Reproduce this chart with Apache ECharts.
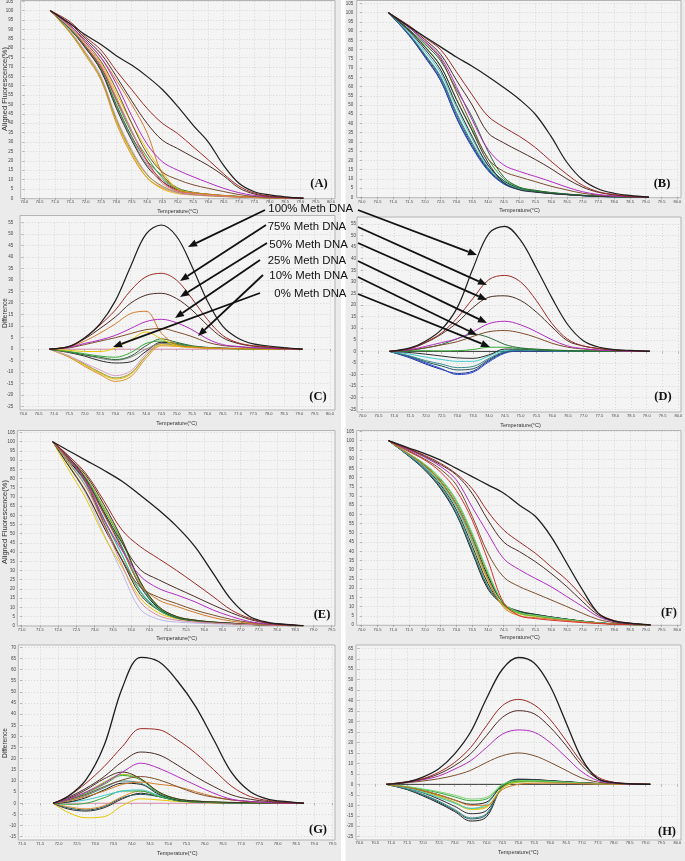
<!DOCTYPE html>
<html>
<head>
<meta charset="utf-8">
<script src="https://cdn.jsdelivr.net/npm/echarts@6/dist/echarts.min.js"></script>
<style>html,body{margin:0;padding:0;background:#fff}#c{width:685px;height:861px}</style>
</head>
<body>
<div id="c"></div>
<script>
// ---------- temperatures (°C) ----------
const TEMP_AD = [70.85, 71.5, 72, 72.5, 73, 73.5, 74, 74.5, 75, 75.5, 76, 76.5, 77, 77.5, 78, 78.5, 79.1];
const TEMP_EG = [71.85, 72.25, 72.75, 73.25, 73.75, 74.25, 74.75, 75.25, 75.75, 76.25, 76.75, 77.25, 77.75, 78.25, 78.72];
const TEMP_FH = [70.85, 71.5, 72, 72.5, 73, 73.5, 74, 74.5, 75, 75.5, 76, 76.5, 77, 77.5, 78, 78.5, 79.15];

// ---------- Panel A : aligned fluorescence (%) ----------
const A_100 = [100, 93, 87, 82, 76, 71, 65, 58, 49, 39, 30, 17.5, 8, 3.5, 1.8, 0.8, 0];
const A_75 = [100, 94, 86, 79, 68, 58, 48, 40, 34.5, 27.5, 20.5, 13, 6.5, 2.8, 1.2, 0.5, 0];
const A_50 = [100, 93, 85, 77, 65, 52, 40, 31, 26.5, 22, 17.5, 12, 5.5, 2.3, 1, 0.4, 0];
const A_25 = [100, 92, 84, 75, 61, 44, 29, 19.5, 15, 11.5, 8.3, 5.3, 3, 1.5, 0.7, 0.3, 0];
const A_10 = [100, 92, 83, 73, 58, 40, 24, 14, 10, 7.2, 5.3, 3.6, 2, 1, 0.5, 0.2, 0];
const A_ORANGE = [100, 92, 84, 75, 63, 50, 35, 13, 4.5, 3, 2.2, 1.5, 1, 0.6, 0.3, 0.1, 0];
const A_REF = [100, 91, 82, 71, 54, 36, 19, 8, 3.5, 2.3, 1.7, 1.2, 0.8, 0.5, 0.3, 0.1, 0];
const A_YEL1 = [100, 88, 77, 64, 41, 24, 11, 5, 2.5, 1.8, 1.3, 1, 0.6, 0.4, 0.2, 0.1, 0];
const A_ORG2 = [100, 88, 76, 63, 40, 23, 11, 5.5, 3, 2, 1.5, 1, 0.7, 0.4, 0.2, 0.1, 0];
const A_PINK = [100, 89, 78, 65, 43, 26, 13, 6, 2.8, 1.8, 1.3, 0.9, 0.6, 0.4, 0.2, 0.1, 0];
const A_OLIVE = [100, 88.5, 77, 64, 42, 25, 12.5, 6.5, 3.2, 2, 1.5, 1, 0.7, 0.4, 0.2, 0.1, 0];
const A_BLK2 = [100, 90, 80, 68, 48, 31, 17, 9, 4.5, 3, 2, 1.4, 0.9, 0.5, 0.3, 0.1, 0];
const A_DKGRN = [100, 90, 80.5, 69, 50, 33, 20, 12, 5.5, 3.2, 2.2, 1.5, 1, 0.6, 0.3, 0.1, 0];
const A_GRN = [100, 90.5, 81, 70, 52, 35, 22, 11, 5, 3, 2, 1.4, 0.9, 0.5, 0.3, 0.1, 0];
const A_GREY = [100, 90, 80, 68.5, 49, 32, 18, 10, 4.8, 3, 2, 1.4, 0.9, 0.5, 0.3, 0.1, 0];
const A_RED = [100, 91, 81, 70, 53, 36, 20, 9, 3.8, 2.4, 1.7, 1.2, 0.8, 0.5, 0.3, 0.1, 0];
const A_YEL2 = [100, 91, 82, 72, 56, 40, 26, 14, 5, 3, 2, 1.4, 0.9, 0.5, 0.3, 0.1, 0];

// ---------- Panel C : difference ----------
const C_100 = [0, 1.2, 5, 11, 21, 36, 50, 54, 49, 36, 21, 10, 4.8, 2.3, 1.4, 0.7, 0];
const C_75 = [0, 1.2, 4.8, 10.5, 17, 25.5, 31.5, 33, 30, 22, 13, 6, 2.8, 1.5, 1, 0.5, 0];
const C_50 = [0, 1.2, 4.5, 9, 14, 20, 23.5, 24.3, 22, 17, 10.5, 5, 2.5, 1.3, 0.8, 0.4, 0];
const C_ORANGE = [0, 1, 3.5, 7, 11, 15.5, 16.5, 7, 2, 1, 0.6, 0.4, 0.3, 0.2, 0.1, 0, 0];
const C_25 = [0, 0.8, 2.5, 4, 6, 9, 12, 13, 11.5, 8.5, 4.5, 2, 1.2, 0.7, 0.4, 0.2, 0];
const C_10 = [0, 0.6, 2, 3.5, 5, 6.8, 8.5, 9, 7.5, 5.5, 3, 1.6, 1, 0.6, 0.3, 0.1, 0];
const C_REF = [0, 0, 0, 0, 0, 0, 0, 0, 0, 0, 0, 0, 0, 0, 0, 0, 0];
const C_YEL2 = [0, -0.5, -1, -1, 0.5, 4, 7.5, 4.5, 1.5, 0.8, 0.5, 0.3, 0.2, 0.1, 0, 0, 0];
const C_YEL1 = [0, -3.5, -7, -10.5, -13, -11, -3, 2, 1.5, 0.8, 0.5, 0.3, 0.2, 0.1, 0, 0, 0];
const C_ORG2 = [0, -3.5, -7.5, -11, -14, -12, -4, 1.5, 1.2, 0.7, 0.4, 0.3, 0.2, 0.1, 0, 0, 0];
const C_OLIVE = [0, -3, -6.5, -10, -12.5, -10.5, -3, 2.5, 1.8, 1, 0.6, 0.3, 0.2, 0.1, 0, 0, 0];
const C_PINK = [0, -3, -6, -9, -11.5, -9.5, -2, 3, 2, 1, 0.6, 0.3, 0.2, 0.1, 0, 0, 0];
const C_BLK2 = [0, -1.5, -3, -5, -6, -5.5, -1, 3, 2.5, 1.2, 0.7, 0.4, 0.2, 0.1, 0, 0, 0];
const C_DKGRN = [0, -1.2, -2.5, -3.5, -4.5, -3, 1.5, 4.5, 3, 1.5, 0.8, 0.5, 0.3, 0.1, 0, 0, 0];
const C_GRN = [0, -1, -2, -3, -3.5, -1.5, 2.5, 3.5, 2.3, 1.2, 0.6, 0.3, 0.2, 0.1, 0, 0, 0];
const C_GREY = [0, -1.2, -2.5, -4, -4.8, -3.5, 0, 2.5, 2, 1, 0.5, 0.3, 0.2, 0.1, 0, 0, 0];

// ---------- Panel B : aligned fluorescence (%) ----------
const B_100 = [100, 92.5, 87, 81.5, 76, 71, 65.5, 59.5, 53, 45, 33, 19, 9.5, 4.5, 2.2, 1, 0];
const B_75 = [100, 93, 86.5, 80, 68, 55.5, 44, 38, 33, 27, 19.5, 12.5, 6.5, 3, 1.5, 0.6, 0];
const B_50 = [100, 92.5, 85.5, 77.5, 63.5, 50, 35, 29.5, 25, 20.5, 15.5, 10, 5.5, 2.7, 1.3, 0.5, 0];
const B_25 = [100, 92, 84.5, 76, 60, 42, 26, 17.5, 14, 11.3, 8.5, 5.5, 3, 1.5, 0.7, 0.3, 0];
const B_10 = [100, 92, 84, 75, 57, 38.5, 21, 14, 11, 8.5, 6, 4, 2.2, 1.2, 0.6, 0.2, 0];
const B_REF = [100, 90.5, 81.5, 71, 53, 36, 19, 8, 4, 2.8, 2, 1.4, 0.9, 0.5, 0.3, 0.1, 0];
const B_DKGRN = [100, 91, 83, 74, 58.5, 43.5, 25, 11, 5.5, 3.8, 2.6, 1.8, 1.1, 0.6, 0.3, 0.1, 0];
const B_GRN = [100, 90.7, 81.8, 71.2, 53.3, 36.8, 21, 10, 5.2, 3.6, 2.5, 1.7, 1.1, 0.6, 0.3, 0.1, 0];
const B_DARK = [100, 90, 80.3, 69, 50.2, 33, 17.5, 9, 5, 3.4, 2.4, 1.6, 1, 0.5, 0.3, 0.1, 0];
const B_CYAN = [100, 89.3, 79, 67.5, 48.7, 31.7, 17, 8.5, 4.8, 3.3, 2.3, 1.6, 1, 0.5, 0.3, 0.1, 0];
const B_GTEAL = [100, 88.5, 77.5, 65.5, 46, 29.5, 16, 8, 4.5, 3.2, 2.3, 1.6, 1, 0.5, 0.3, 0.1, 0];
const B_DTEAL = [100, 88.3, 77, 64.7, 45, 28.5, 15.5, 7.7, 4.4, 3.1, 2.2, 1.5, 0.9, 0.5, 0.3, 0.1, 0];
const B_BLUE = [100, 88, 76.5, 63.5, 43, 27, 14.5, 7.2, 4.2, 3, 2.1, 1.5, 0.9, 0.5, 0.3, 0.1, 0];
const B_NAVY = [100, 87.7, 76, 63.2, 43.5, 27.5, 15, 7.5, 4.3, 3, 2.1, 1.5, 0.9, 0.5, 0.3, 0.1, 0];

// ---------- Panel D : difference ----------
const D_100 = [0, 1.5, 4.5, 9.5, 19, 36, 51, 54, 48, 36, 23, 11.5, 4.5, 1.8, 0.8, 0.4, 0];
const D_75 = [0, 1.3, 4, 8, 14.5, 23, 31, 32.8, 30, 22, 12, 5.2, 2.3, 1.2, 0.6, 0.3, 0];
const D_50 = [0, 1.2, 3.8, 7.5, 12.5, 19, 23.4, 24, 22, 17, 10.5, 4.5, 2.3, 1.2, 0.6, 0.3, 0];
const D_25 = [0, 0.8, 2.2, 3.8, 5.5, 8.5, 12, 13, 11.5, 8.5, 5, 2.3, 1.2, 0.6, 0.3, 0.1, 0];
const D_10 = [0, 0.6, 1.6, 2.8, 4.2, 6.5, 8.5, 9, 8, 6, 3.5, 1.8, 1, 0.5, 0.3, 0.1, 0];
const D_REF = [0, 0, 0, 0, 0, 0, 0, 0, 0, 0, 0, 0, 0, 0, 0, 0, 0];
const D_DKGRN = [0, 0.5, 1.5, 3, 5.5, 7.5, 6, 3, 1.5, 1, 0.6, 0.4, 0.2, 0.1, 0, 0, 0];
const D_GRN = [0, 0.2, 0.3, 0.2, 0.3, 0.8, 1.8, 1.8, 1.2, 0.8, 0.5, 0.3, 0.2, 0.1, 0, 0, 0];
const D_DARK = [0, -0.5, -1.2, -2, -2.8, -3, -1.5, 1, 1, 0.6, 0.4, 0.2, 0.1, 0, 0, 0, 0];
const D_CYAN = [0, -1.2, -2.5, -3.5, -4.3, -4.3, -2, 0.5, 0.8, 0.5, 0.3, 0.2, 0.1, 0, 0, 0, 0];
const D_GTEAL = [0, -2, -4, -5.5, -7, -6.5, -3, 0, 0.5, 0.4, 0.3, 0.2, 0.1, 0, 0, 0, 0];
const D_DTEAL = [0, -2.2, -4.5, -6.3, -8, -7.5, -3.5, -0.3, 0.4, 0.3, 0.2, 0.1, 0, 0, 0, 0, 0];
const D_BLUE = [0, -2.5, -5, -7.5, -10, -9, -4.5, -0.8, 0.2, 0.2, 0.1, 0.1, 0, 0, 0, 0, 0];
const D_NAVY = [0, -2.8, -5.5, -7.8, -9.5, -8.5, -4, -0.5, 0.3, 0.2, 0.1, 0.1, 0, 0, 0, 0, 0];

// ---------- Panel E : aligned fluorescence (%) ----------
const E_100 = [100, 95.5, 90, 84.5, 78.5, 71, 63, 54, 43, 28.5, 14, 5, 1.8, 0.7, 0];
const E_75 = [100, 93, 83, 68, 52, 43, 36.5, 30, 23, 15.8, 8.5, 4, 1.6, 0.6, 0];
const E_50 = [100, 92.5, 80, 62, 45, 30.5, 25, 20.3, 15.8, 11.2, 7, 3.4, 1.4, 0.5, 0];
const E_25 = [100, 92, 79, 58, 41, 27, 20.3, 16.7, 13, 8.5, 5, 2.2, 1, 0.4, 0];
const E_10 = [100, 91.5, 78, 56, 36, 21, 15.5, 12, 8.5, 5.8, 3.4, 1.8, 0.8, 0.3, 0];
const E_ORANGE = [100, 91, 79, 60.5, 41.5, 22.5, 14, 10.5, 7.2, 4.4, 2.5, 1.3, 0.6, 0.2, 0];
const E_REF = [100, 90, 76, 55, 33, 13, 5.5, 3, 2, 1.4, 1, 0.6, 0.3, 0.1, 0];
const E_DKBRN = [100, 92, 82, 66, 47, 24, 10.5, 5, 3, 2, 1.4, 0.8, 0.4, 0.1, 0];
const E_GRN = [100, 91.5, 80.5, 63.5, 45.5, 23.5, 10, 4.8, 3, 2, 1.3, 0.8, 0.4, 0.1, 0];
const E_YGRN = [100, 91.8, 81, 64.5, 46, 24, 10.5, 5, 3, 1.9, 1.3, 0.8, 0.4, 0.1, 0];
const E_TEAL = [100, 91, 79.5, 62, 43, 22, 10, 4.8, 3, 1.9, 1.3, 0.8, 0.4, 0.1, 0];
const E_BLK = [100, 90.5, 78.5, 61, 42, 21.5, 9.5, 4.5, 2.8, 1.8, 1.2, 0.7, 0.3, 0.1, 0];
const E_CYAN = [100, 90.5, 77.5, 58.5, 38.5, 19, 9, 4.5, 2.8, 1.8, 1.2, 0.7, 0.3, 0.1, 0];
const E_GRN2 = [100, 89.5, 76, 57.5, 38.5, 18.5, 8.5, 4.2, 2.6, 1.7, 1.2, 0.7, 0.3, 0.1, 0];
const E_DARK = [100, 88, 73, 53.5, 35.5, 17, 8.5, 4.2, 2.6, 1.7, 1.2, 0.7, 0.3, 0.1, 0];
const E_YEL = [100, 86, 69.5, 49, 32, 15, 7, 3.8, 2.4, 1.6, 1.1, 0.6, 0.3, 0.1, 0];
const E_ORG2 = [100, 88.5, 73.5, 54, 36, 18.5, 9, 4.5, 2.8, 1.8, 1.2, 0.7, 0.3, 0.1, 0];
const E_LAV = [100, 88, 72, 50, 29, 9, 3.5, 2, 1.4, 1, 0.7, 0.4, 0.2, 0.1, 0];

// ---------- Panel G : difference ----------
const G_100 = [0, 3, 10.5, 26, 52, 65.5, 63.5, 55, 43.5, 28.5, 13.5, 5.2, 1.8, 0.7, 0];
const G_75 = [0, 3, 9, 16.5, 25.5, 33.5, 33, 28.5, 22.5, 15, 7.5, 3, 1.2, 0.5, 0];
const G_50 = [0, 2.5, 6.7, 12, 18.7, 23, 21.7, 17.2, 12, 7.5, 3.7, 1.8, 0.8, 0.3, 0];
const G_25 = [0, 1.8, 5, 9, 14, 18, 15.7, 12, 8.2, 4.5, 1.8, 0.8, 0.3, 0.1, 0];
const G_10 = [0, 1.5, 4, 7.5, 10.5, 12, 10.5, 7.5, 4.5, 2.7, 1.5, 0.8, 0.4, 0.1, 0];
const G_ORANGE = [0, 1, 3, 5.5, 8.5, 9.5, 8.5, 7.5, 5.2, 3, 1.5, 0.7, 0.3, 0.1, 0];
const G_REF = [0, 0, 0, 0, 0, 0, 0, 0, 0, 0, 0, 0, 0, 0, 0];
const G_DKBRN = [0, 2, 6, 11, 14, 11, 5, 2, 1, 0.6, 0.4, 0.2, 0.1, 0, 0];
const G_GRN = [0, 1.5, 4.5, 8.5, 12.5, 10.5, 4.5, 1.8, 1, 0.6, 0.3, 0.2, 0.1, 0, 0];
const G_YGRN = [0, 1.8, 5, 9.5, 13, 11, 5, 2, 1, 0.5, 0.3, 0.2, 0.1, 0, 0];
const G_TEAL = [0, 1, 3.5, 7, 10, 9, 4.5, 1.8, 1, 0.5, 0.3, 0.2, 0.1, 0, 0];
const G_BLK = [0, 0.5, 2.5, 6, 9, 8.5, 4, 1.5, 0.8, 0.4, 0.2, 0.1, 0, 0, 0];
const G_CYAN = [0, 0.5, 1.5, 3.5, 5.5, 6, 3.5, 1.5, 0.8, 0.4, 0.2, 0.1, 0, 0, 0];
const G_GRN2 = [0, -0.5, 0, 2.5, 5.5, 5.5, 3, 1.2, 0.6, 0.3, 0.2, 0.1, 0, 0, 0];
const G_DARK = [0, -2, -3, -1.5, 2.5, 4, 3, 1.2, 0.6, 0.3, 0.2, 0.1, 0, 0, 0];
const G_YEL = [0, -4, -6.5, -6, -1, 2, 1.5, 0.8, 0.4, 0.2, 0.1, 0, 0, 0, 0];
const G_ORG2 = [0, -1.5, -2.5, -1, 3, 5.5, 3.5, 1.5, 0.8, 0.4, 0.2, 0.1, 0, 0, 0];
const G_LAV = [0, -2.5, -3.5, -2, 2, 4.5, 3, 1.2, 0.6, 0.3, 0.2, 0.1, 0, 0, 0];

// ---------- Panel F : aligned fluorescence (%) ----------
const F_100 = [100, 96, 93, 89.5, 85, 80.5, 76, 71.5, 65, 59, 48, 33.5, 19, 6.3, 2.2, 1, 0];
const F_75 = [100, 95.5, 92, 87.7, 82, 74, 61.5, 51.5, 45, 39, 31.6, 24.4, 15.4, 6.3, 2.4, 1, 0];
const F_50 = [100, 95.5, 91.5, 87, 81.4, 71.4, 57, 45, 39.8, 34.4, 28, 20.8, 12.7, 5.4, 2, 0.8, 0];
const F_25 = [100, 95, 91, 86, 78.7, 64, 49.7, 36, 30, 25.3, 20.8, 15.4, 10, 4.5, 1.8, 0.7, 0];
const F_10 = [100, 94.5, 90, 84.5, 76, 59, 39, 26, 20.8, 17.2, 13.6, 10, 6.3, 3, 1.3, 0.5, 0];
const F_REF = [100, 94, 89.5, 83, 73, 57, 35, 12, 5, 3.5, 2.6, 1.9, 1.3, 0.8, 0.4, 0.2, 0];
const F_BLK19 = [100, 91.5, 84, 74, 60, 39.5, 19.5, 11, 7.5, 5.8, 4.4, 3.2, 2.1, 1.2, 0.6, 0.3, 0];
const F_DTEAL = [100, 91.7, 84.5, 74.5, 60.5, 40.5, 20.5, 11, 7.3, 5.7, 4.3, 3.1, 2, 1.2, 0.6, 0.3, 0];
const F_TEAL = [100, 91.8, 84.7, 75, 61, 41, 21, 10.5, 7, 5.5, 4.2, 3.1, 2, 1.2, 0.6, 0.3, 0];
const F_BLK15 = [100, 92.2, 85.5, 76, 62.5, 43, 22.5, 10.5, 7, 5.5, 4.2, 3, 2, 1.2, 0.6, 0.3, 0];
const F_YEL13 = [100, 92.5, 86, 77, 64, 45, 24, 10.5, 6.2, 4.9, 3.8, 2.8, 1.9, 1.1, 0.5, 0.2, 0];
const F_YEL12 = [100, 92.5, 86.3, 77.5, 64.5, 45.5, 24.5, 10.2, 6, 4.7, 3.6, 2.7, 1.8, 1.1, 0.5, 0.2, 0];
const F_TEAL12 = [100, 92.2, 85.7, 76.7, 64, 45.5, 25.5, 11.5, 6.8, 5.3, 4.1, 2.9, 1.9, 1.1, 0.5, 0.2, 0];
const F_BLK10 = [100, 92.7, 86.5, 78, 65.5, 47.5, 26.5, 11.5, 7, 5.5, 4.2, 3, 2, 1.1, 0.5, 0.2, 0];
const F_GRN8 = [100, 92.8, 87, 79, 67, 49, 28, 11.5, 6.5, 5.1, 3.9, 2.9, 1.9, 1.1, 0.5, 0.2, 0];
const F_LGRN = [100, 93, 87.3, 79.5, 67.8, 50, 28.8, 12, 6.8, 5.3, 4.1, 2.9, 1.9, 1.1, 0.5, 0.2, 0];
const F_ORG = [100, 92.6, 86.5, 78, 65.5, 47, 25, 9.5, 5, 4, 3.2, 2.4, 1.6, 1, 0.5, 0.2, 0];

// ---------- Panel H : difference ----------
const H_100 = [0, 1.1, 3.5, 7.5, 14.6, 25, 41, 55, 60.6, 58, 47, 29.6, 12.2, 2.7, 0.8, 0.3, 0];
const H_75 = [0, 1.3, 2.7, 5.8, 10.5, 17.6, 28, 37.6, 40.6, 38, 31, 21, 10.5, 3.5, 1, 0.4, 0];
const H_50 = [0, 1.2, 2.5, 5, 9, 14.6, 23.3, 32, 35.2, 33.7, 27.3, 18.6, 9, 2.7, 0.9, 0.3, 0];
const H_25 = [0, 1, 2.2, 4, 7.3, 11.3, 17.6, 24, 26, 24.9, 20, 13, 6, 1.8, 0.6, 0.2, 0];
const H_10 = [0, 0.8, 1.6, 2.7, 4.3, 6.7, 10.5, 13.7, 15, 13.7, 10.5, 6.7, 3, 1.1, 0.4, 0.1, 0];
const H_REF = [0, 0, 0, 0, 0, 0, 0, 0, 0, 0, 0, 0, 0, 0, 0, 0, 0];
const H_BLK19 = [0, -2.5, -5.5, -9, -13, -17.5, -15.5, -1, 2.5, 2.3, 1.8, 1.3, 0.8, 0.4, 0.2, 0.1, 0];
const H_DTEAL = [0, -2.3, -5, -8.5, -12.5, -16.5, -14.5, -1, 2.3, 2.2, 1.7, 1.2, 0.7, 0.4, 0.2, 0.1, 0];
const H_TEAL = [0, -2.2, -4.8, -8, -12, -16, -14, -1.5, 2, 2, 1.6, 1.2, 0.7, 0.4, 0.2, 0.1, 0];
const H_BLK15 = [0, -1.8, -4, -7, -10.5, -14, -12.5, -1.5, 2, 2, 1.6, 1.1, 0.7, 0.4, 0.2, 0.1, 0];
const H_YEL13 = [0, -1.5, -3.5, -6, -9, -12, -11, -1.5, 1.2, 1.4, 1.2, 0.9, 0.6, 0.3, 0.1, 0, 0];
const H_YEL12 = [0, -1.5, -3.2, -5.5, -8.5, -11.5, -10.5, -1.8, 1, 1.2, 1, 0.8, 0.5, 0.3, 0.1, 0, 0];
const H_TEAL12 = [0, -1.8, -3.8, -6.3, -9, -11.5, -9.5, -0.5, 1.8, 1.8, 1.5, 1, 0.6, 0.3, 0.1, 0, 0];
const H_BLK10 = [0, -1.3, -3, -5, -7.5, -9.5, -8.5, -0.5, 2, 2, 1.6, 1.1, 0.7, 0.3, 0.1, 0, 0];
const H_GRN8 = [0, -1.2, -2.5, -4, -6, -7.8, -7, -0.5, 1.5, 1.6, 1.3, 1, 0.6, 0.3, 0.1, 0, 0];
const H_LGRN = [0, -1, -2.2, -3.5, -5.2, -7, -6.2, 0, 1.8, 1.8, 1.5, 1, 0.6, 0.3, 0.1, 0, 0];
const H_ORG = [0, -1.4, -3, -5, -7.5, -10, -10, -2.5, 0, 0.5, 0.6, 0.5, 0.3, 0.2, 0.1, 0, 0];

// ---------- labels ----------
const PANEL_LABELS = ['(A)', '(B)', '(C)', '(D)', '(E)', '(F)', '(G)', '(H)'];
const METH_LABELS = ['100% Meth DNA', '75% Meth DNA', '50% Meth DNA', '25% Meth DNA', '10% Meth DNA', '0% Meth DNA'];
const X_NAME = 'Temperature(°C)';
const Y_NAME_FLUOR = 'Aligned Fluorescence(%)';
const Y_NAME_DIFF = 'Difference';

// ---------- colours ----------
const COL = {
  black: '#1e1e1e', dred: '#9c2a22', dbrn: '#4a2c26', mag: '#b22cc2', brn: '#7c4e2c',
  org: '#d27a2a', yel: '#e6c600', org2: '#e09232', pink: '#d8a0c8', olive: '#9a9a3a',
  blk2: '#2c2c2c', dgrn: '#2a6a3a', grn: '#36aa36', grey: '#8a8a8a', red: '#d83030',
  cyan: '#40c8d0', blue: '#2a4ad0', navy: '#1a2a90', teal: '#3a8a8a', dteal: '#24565a',
  lav: '#b8b8e8', lgrn: '#78d070', ygrn: '#a8c020', refPink: '#d58aa8', refDark: '#333333'
};

const chart = echarts.init(document.getElementById('c'), null, {renderer: 'canvas'});

// panel geometry: grid (axis min/max mapping) and plot background box
const PANELS = [
  {grid: [24.3, 1.3, 306.7, 197], box: [20.7, 0.5, 314.3, 198.2], x: [70, 80], y: [0, 105], ym: 11, xm: 2, xg: 10, yname: Y_NAME_FLUOR, yn: [5, 89]},
  {grid: [361.7, 3.5, 315.6, 193.8], box: [356.7, 0.5, 324.3, 197.2], x: [70, 80], y: [0, 105], ym: 8.4, xm: 3, xg: 10.6},
  {grid: [23.3, 222.7, 306.7, 184], box: [20, 215.5, 315, 194.5], x: [70, 80], y: [-25, 55], ym: 10, xm: 5, xg: 14, yname: Y_NAME_DIFF, yn: [5, 313]},
  {grid: [362.7, 224, 315.6, 185.3], box: [357, 217, 324, 195], x: [70, 80], y: [-25, 55], ym: 6.7, xm: 4.4, xg: 12.9},
  {grid: [21.7, 432.5, 310, 193.2], box: [17.3, 430.5, 317.7, 195.5], x: [71, 79.5], y: [0, 105], ym: 6.7, xm: 2.3, xg: 9.8, yname: Y_NAME_FLUOR, yn: [5, 522]},
  {grid: [361.7, 431.5, 315.6, 193.5], box: [356.7, 430.5, 324.3, 194.8], x: [70, 80], y: [0, 105], ym: 7.7, xm: 3, xg: 9.5},
  {grid: [22, 647.3, 310.5, 189.4], box: [18.3, 645, 316.7, 195], x: [71, 79.5], y: [-15, 70], ym: 6, xm: 5.3, xg: 13.8, yname: Y_NAME_DIFF, yn: [5, 743]},
  {grid: [359.3, 648.3, 318, 188.4], box: [356, 645, 325, 195], x: [70, 80], y: [-25, 65], ym: 6, xm: 4, xg: 13.2}
];

const grids = [], xAxes = [], yAxes = [];
PANELS.forEach((p, i) => {
  grids.push({left: p.grid[0], top: p.grid[1], width: p.grid[2], height: p.grid[3], containLabel: false, outerBoundsMode: 'none'});
  xAxes.push({
    type: 'value', gridIndex: i, min: p.x[0], max: p.x[1], interval: 0.5,
    axisLine: {show: false}, axisTick: {show: true, length: 2, lineStyle: {color: '#888', width: 0.6}},
    splitLine: {show: true, lineStyle: {color: '#c4c4c4', width: 0.6, type: [1, 2]}},
    axisLabel: {fontSize: 4, color: '#444', margin: p.xm, formatter: v => v.toFixed(1), hideOverlap: false},
    name: X_NAME, nameLocation: 'middle', nameGap: p.xg,
    nameTextStyle: {fontSize: 5.5, color: '#333', fontFamily: 'Liberation Sans'}
  });
  yAxes.push({
    type: 'value', gridIndex: i, min: p.y[0], max: p.y[1], interval: 5,
    axisLine: {show: false}, axisTick: {show: true, length: 2, lineStyle: {color: '#888', width: 0.6}},
    splitLine: {show: true, lineStyle: {color: '#c4c4c4', width: 0.6, type: [1, 2]}},
    axisLabel: {fontSize: 4.5, color: '#444', margin: p.ym, hideOverlap: false}
  });
});

function mk(xs, ys, color, gi, w) {
  return {
    type: 'line', xAxisIndex: gi, yAxisIndex: gi,
    data: xs.map((x, k) => [x, ys[k]]),
    smooth: 0.35, showSymbol: false, symbol: 'none', silent: true, animation: false,
    lineStyle: {color: color, width: w || 1}, z: 3
  };
}

const series = [];
function add(gi, xs, list) { list.forEach(s => series.push(mk(xs, s[0], s[1], gi, s[2]))); }

add(0, TEMP_AD, [
  [A_YEL1, COL.yel], [A_ORG2, COL.org2], [A_PINK, COL.pink], [A_OLIVE, COL.olive], [A_GREY, COL.grey],
  [A_BLK2, COL.blk2], [A_DKGRN, COL.dgrn], [A_GRN, COL.grn], [A_RED, COL.red], [A_YEL2, COL.yel], [A_REF, COL.refPink],
  [A_ORANGE, COL.org], [A_10, COL.brn], [A_25, COL.mag], [A_50, COL.dbrn], [A_75, COL.dred], [A_100, COL.black, 1.2]
]);
add(2, TEMP_AD, [
  [C_REF, COL.refPink], [C_YEL1, COL.yel], [C_ORG2, COL.org2], [C_OLIVE, COL.olive], [C_PINK, COL.pink],
  [C_BLK2, COL.blk2], [C_GREY, COL.grey], [C_DKGRN, COL.dgrn], [C_GRN, COL.grn], [C_YEL2, COL.yel],
  [C_ORANGE, COL.org], [C_10, COL.brn], [C_25, COL.mag], [C_50, COL.dbrn], [C_75, COL.dred], [C_100, COL.black, 1.2]
]);
add(1, TEMP_AD, [
  [B_NAVY, COL.navy], [B_BLUE, COL.blue], [B_DTEAL, COL.dteal], [B_GTEAL, COL.teal], [B_CYAN, COL.cyan],
  [B_DARK, COL.blk2], [B_GRN, COL.grn], [B_DKGRN, COL.dgrn], [B_REF, COL.refDark],
  [B_10, COL.brn], [B_25, COL.mag], [B_50, COL.dbrn], [B_75, COL.dred], [B_100, COL.black, 1.2]
]);
add(3, TEMP_AD, [
  [D_REF, COL.refDark], [D_NAVY, COL.navy], [D_BLUE, COL.blue], [D_DTEAL, COL.dteal], [D_GTEAL, COL.teal],
  [D_CYAN, COL.cyan], [D_DARK, COL.blk2], [D_GRN, COL.grn], [D_DKGRN, COL.dgrn],
  [D_10, COL.brn], [D_25, COL.mag], [D_50, COL.dbrn], [D_75, COL.dred], [D_100, COL.black, 1.2]
]);
add(4, TEMP_EG, [
  [E_LAV, COL.lav], [E_YEL, COL.yel], [E_ORG2, COL.org2], [E_DARK, COL.blk2], [E_GRN2, COL.grn], [E_CYAN, COL.cyan],
  [E_BLK, COL.black], [E_TEAL, COL.teal], [E_YGRN, COL.ygrn], [E_GRN, COL.grn], [E_DKBRN, COL.dbrn], [E_REF, COL.refPink],
  [E_ORANGE, COL.org], [E_10, COL.brn], [E_25, COL.mag], [E_50, COL.dbrn], [E_75, COL.dred], [E_100, COL.black, 1.3]
]);
add(6, TEMP_EG, [
  [G_REF, COL.refPink], [G_YEL, COL.yel], [G_LAV, COL.blk2], [G_DARK, COL.dteal], [G_ORG2, COL.org2], [G_GRN2, COL.grn],
  [G_CYAN, COL.cyan], [G_BLK, COL.black], [G_TEAL, COL.teal], [G_YGRN, COL.ygrn], [G_GRN, COL.grn], [G_DKBRN, COL.dbrn],
  [G_ORANGE, COL.org], [G_10, COL.brn], [G_25, COL.mag], [G_50, COL.dbrn], [G_75, COL.dred], [G_100, COL.black, 1.3]
]);
add(5, TEMP_FH, [
  [F_BLK19, COL.black], [F_DTEAL, COL.dteal], [F_TEAL, COL.teal], [F_BLK15, COL.blk2], [F_YEL13, COL.yel],
  [F_YEL12, COL.ygrn], [F_TEAL12, COL.cyan], [F_BLK10, COL.black], [F_GRN8, COL.grn], [F_LGRN, COL.lgrn],
  [F_ORG, COL.org], [F_REF, COL.red],
  [F_10, COL.brn], [F_25, COL.mag], [F_50, COL.dbrn], [F_75, COL.dred], [F_100, COL.black, 1.3]
]);
add(7, TEMP_FH, [
  [H_REF, COL.refDark], [H_BLK19, COL.black], [H_DTEAL, COL.dteal], [H_TEAL, COL.teal], [H_BLK15, COL.blk2],
  [H_YEL13, COL.yel], [H_YEL12, COL.ygrn], [H_TEAL12, COL.cyan], [H_BLK10, COL.black], [H_GRN8, COL.grn],
  [H_LGRN, COL.lgrn], [H_ORG, COL.org],
  [H_10, COL.brn], [H_25, COL.mag], [H_50, COL.dbrn], [H_75, COL.dred], [H_100, COL.black, 1.3]
]);

// ---------- decorations ----------
const graphics = [];
graphics.push({type: 'rect', z: -20, silent: true, shape: {x: 0, y: 0, width: 341, height: 861}, style: {fill: '#ebebeb'}});
graphics.push({type: 'rect', z: -20, silent: true, shape: {x: 345.5, y: 0, width: 339.5, height: 861}, style: {fill: '#ebebeb'}});
PANELS.forEach(p => {
  graphics.push({type: 'rect', z: -10, silent: true,
    shape: {x: p.box[0], y: p.box[1], width: p.box[2], height: p.box[3]},
    style: {fill: '#f4f4f4', stroke: '#a4a4a4', lineWidth: 0.8}});
  if (p.yname) {
    graphics.push({type: 'text', z: 50, silent: true, x: p.yn[0], y: p.yn[1], rotation: Math.PI / 2,
      style: {text: p.yname, fill: '#333', font: (p.yname === Y_NAME_DIFF ? '6.6px' : '7.5px') + ' "Liberation Sans", Arial, sans-serif',
        textAlign: 'center', textVerticalAlign: 'middle'}});
  }
});

const LABEL_POS = [[319, 184], [662, 184], [318, 397], [663, 397], [322, 615], [669, 613], [318, 830], [667, 832]];
PANEL_LABELS.forEach((t, i) => {
  graphics.push({type: 'text', z: 50, silent: true, x: LABEL_POS[i][0], y: LABEL_POS[i][1],
    style: {text: t, fill: '#111', font: 'bold 12.5px "Liberation Serif", serif', textAlign: 'center', textVerticalAlign: 'middle'}});
});

const METH_POS = [[268.3, 208.5], [267.7, 226.7], [269.3, 245], [267.7, 260.5], [269.3, 276], [274.3, 294]];
METH_LABELS.forEach((t, i) => {
  graphics.push({type: 'text', z: 60, silent: true, x: METH_POS[i][0], y: METH_POS[i][1],
    style: {text: t, fill: '#111', font: '11.4px "Liberation Sans", Arial, sans-serif', textAlign: 'left', textVerticalAlign: 'middle'}});
});

const ARROWS = [
  [265, 210, 188, 247], [266, 225, 180, 281], [267, 243, 180, 297], [260, 260, 175, 318], [263, 275, 198, 336], [260, 293, 113, 347],
  [358, 210, 477, 255], [358, 227, 487, 285], [358, 243, 487, 300], [358, 261, 487, 323], [358, 277, 477, 335], [358, 294, 490, 347]
];
ARROWS.forEach(a => {
  const [x1, y1, x2, y2] = a;
  const dx = x2 - x1, dy = y2 - y1, L = Math.hypot(dx, dy), ux = dx / L, uy = dy / L;
  const hl = 9, hw = 3.6;
  const bx = x2 - ux * hl, by = y2 - uy * hl;
  graphics.push({type: 'line', z: 60, silent: true, shape: {x1: x1, y1: y1, x2: bx, y2: by}, style: {stroke: '#111', lineWidth: 1.8}});
  graphics.push({type: 'polygon', z: 60, silent: true,
    shape: {points: [[x2, y2], [bx - uy * hw, by + ux * hw], [bx + uy * hw, by - ux * hw]]},
    style: {fill: '#111'}});
});

chart.setOption({
  animation: false,
  backgroundColor: '#ffffff',
  grid: grids, xAxis: xAxes, yAxis: yAxes, series: series,
  graphic: graphics
});
</script>
</body>
</html>
